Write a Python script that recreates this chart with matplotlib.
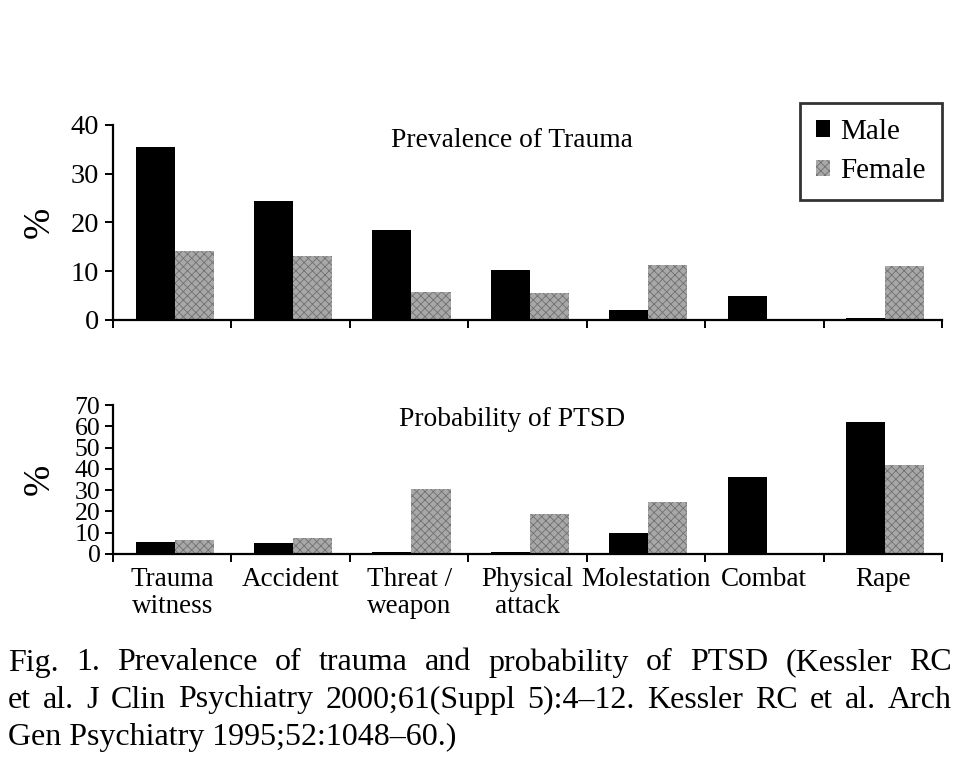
import matplotlib
matplotlib.use("Agg")
import matplotlib.pyplot as plt
import numpy as np

categories = ["Trauma\nwitness", "Accident", "Threat /\nweapon", "Physical\nattack",
              "Molestation", "Combat", "Rape"]
prev_male = [35.5, 24.5, 18.5, 10.2, 2.0, 5.0, 0.4]
prev_female = [14.1, 13.2, 5.8, 5.6, 11.3, 0.0, 11.1]
ptsd_male = [5.5, 5.2, 1.0, 1.0, 10.0, 36.0, 61.8]
ptsd_female = [6.6, 7.7, 30.5, 18.8, 24.3, 0.0, 41.8]
prev_yticks = [0, 10, 20, 30, 40]
ptsd_yticks = [0, 10, 20, 30, 40, 50, 60, 70]

plt.rcParams['font.family'] = ['Liberation Serif', 'DejaVu Serif']
plt.rcParams['hatch.linewidth'] = 0.6

W, H = 960, 775
fig = plt.figure(figsize=(W / 100, H / 100), dpi=100)

def ax_rect(x0, y0, x1, y1):
    return [x0 / W, 1 - y1 / H, (x1 - x0) / W, (y1 - y0) / H]

ax1 = fig.add_axes(ax_rect(113, 125, 942, 320))
ax2 = fig.add_axes(ax_rect(113, 405, 942, 554))

x = np.arange(len(categories))
bw = 0.33
male_kw = dict(color='black', width=bw, linewidth=0)
fem_kw = dict(facecolor='#a8a8a8', edgecolor='#707070', hatch='xxxx', width=bw, linewidth=0)

def style(ax, ymax, yticks, title, title_y, ylab_fs):
    ax.set_xlim(-0.5, len(categories) - 0.5)
    ax.set_ylim(0, ymax)
    ax.spines['top'].set_visible(False)
    ax.spines['right'].set_visible(False)
    ax.spines['left'].set_linewidth(1.6)
    ax.spines['bottom'].set_linewidth(1.6)
    ax.set_yticks(yticks)
    ax.set_xticks(np.arange(len(categories) + 1) - 0.5)
    ax.set_xticklabels([])
    ax.tick_params(axis='both', direction='out', length=6, width=1.4, labelsize=ylab_fs, pad=4)
    ax.set_ylabel('%', fontsize=27, rotation=90, ha='center', va='center')
    ax.yaxis.set_label_coords(-73 / 829, 0.5)
    ax.text(0.481, title_y, title, transform=ax.transAxes, ha='center', va='center', fontsize=19.8)

b1 = ax1.bar(x - 0.145, prev_male, label='Male', **male_kw)
b2 = ax1.bar(x + 0.185, prev_female, label='Female', **fem_kw)
style(ax1, 40, prev_yticks, 'Prevalence of Trauma', 0.92, 20.5)

ax2.bar(x - 0.145, ptsd_male, **male_kw)
ax2.bar(x + 0.185, ptsd_female, **fem_kw)
style(ax2, 70, ptsd_yticks, 'Probability of PTSD', 0.90, 18.5)
ax2.tick_params(axis='y', pad=3)
ax2.set_xticks(x, minor=True)
ax2.set_xticklabels(categories, minor=True, fontsize=19.5, linespacing=1.12)
ax2.tick_params(axis='x', which='minor', length=0, pad=9)

leg = fig.legend(handles=[b1, b2], labels=['Male', 'Female'], loc='upper right',
                 bbox_to_anchor=(942 / W, 1 - 103 / H), borderaxespad=0, fontsize=21,
                 frameon=True, fancybox=False, edgecolor='black', handlelength=0.5,
                 handleheight=0.5, handletextpad=0.35, borderpad=0.55, labelspacing=0.45)
leg.get_frame().set_linewidth(2)

caption = ["Fig. 1. Prevalence of trauma and probability of PTSD (Kessler RC",
           "et al. J Clin Psychiatry 2000;61(Suppl 5):4\u201312. Kessler RC et al. Arch",
           "Gen Psychiatry 1995;52:1048\u201360.)"]
cap_fs = 23
cap_left, cap_right = 8, 952
renderer = fig.canvas.get_renderer()
for i, line in enumerate(caption):
    yfig = 1 - (663 + 37 * i) / H
    justify = i < len(caption) - 1
    if not justify:
        fig.text(cap_left / W, yfig, line, ha='left', va='center', fontsize=cap_fs)
        continue
    words = line.split(' ')
    texts = [fig.text(0, yfig, w, ha='left', va='center', fontsize=cap_fs) for w in words]
    widths = [t.get_window_extent(renderer).width for t in texts]
    gap = (cap_right - cap_left - sum(widths)) / (len(words) - 1)
    xpos = cap_left
    for t, wdt in zip(texts, widths):
        t.set_x(xpos / W)
        xpos += wdt + gap

fig.savefig('out.png', dpi=100)
